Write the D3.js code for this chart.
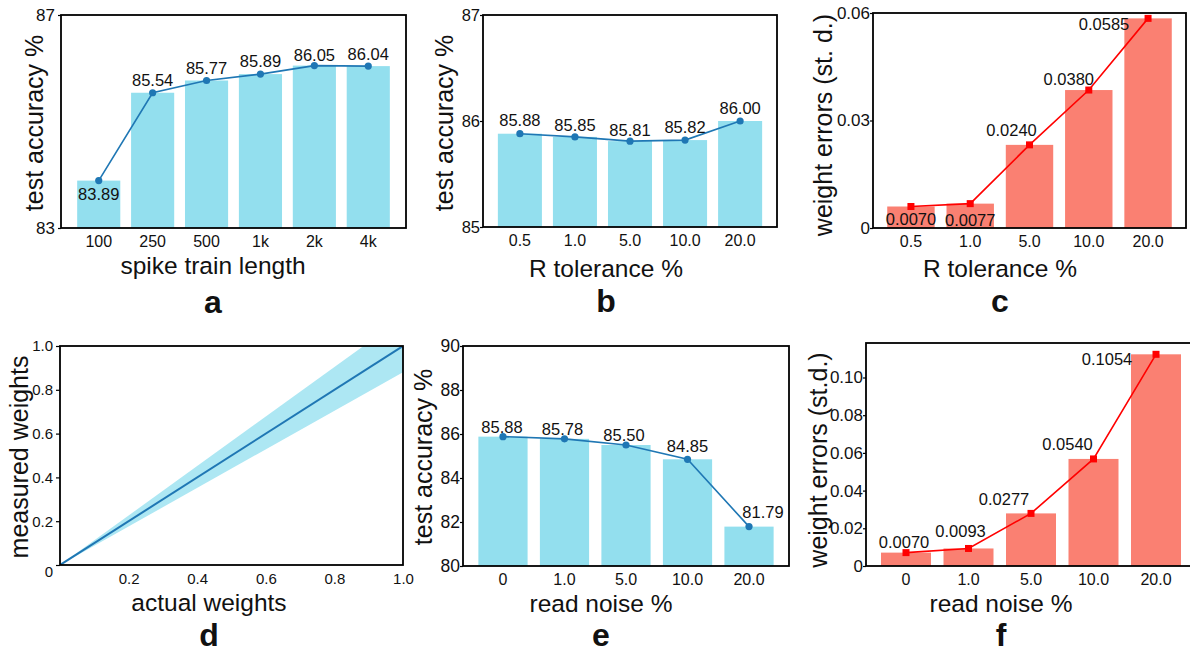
<!DOCTYPE html>
<html>
<head>
<meta charset="utf-8">
<script src="https://cdn.jsdelivr.net/npm/d3@7"></script>
<style>
  body { margin: 0; background: #fff; }
  text { font-family: "Liberation Sans", Arial, sans-serif; fill: #111; }
</style>
</head>
<body>
<script>
// ---- data ----
const spikeLengths = ['100', '250', '500', '1k', '2k', '4k'];
const spikeAcc = [83.89, 85.54, 85.77, 85.89, 86.05, 86.04];

const rTolerance = ['0.5', '1.0', '5.0', '10.0', '20.0'];
const rTolAcc = [85.88, 85.85, 85.81, 85.82, 86.00];
const rTolErr = [0.0060, 0.0068, 0.0232, 0.0385, 0.0585];
const rTolErrLabels = ['0.0070', '0.0077', '0.0240', '0.0380', '0.0585'];

const readNoise = ['0', '1.0', '5.0', '10.0', '20.0'];
const noiseAcc = [85.88, 85.78, 85.50, 84.85, 81.79];
const noiseErr = [0.0071, 0.0093, 0.0279, 0.0568, 0.1123];
const noiseErrLabels = ['0.0070', '0.0093', '0.0277', '0.0540', '0.1054'];

const actualW = [0, 1];
const measuredW = [0, 1];
const measuredLo = [0, 0.88];
const measuredHi = [0, 1.13];

const ticksA = [83, 87];
const ticksB = [85, 86, 87];
const ticksC = [0, 0.03, 0.06];
const ticksD = [0, 0.2, 0.4, 0.6, 0.8, 1.0];
const ticksE = [80, 82, 84, 86, 88, 90];
const ticksF = [0, 0.02, 0.04, 0.06, 0.08, 0.10];

const BLUE_BAR = '#93dfee';
const BLUE_LINE = '#1f77b4';
const SALMON = '#fa8072';
const RED = '#ff0000';

const svg = d3.select('body').append('svg')
  .attr('width', 1190)
  .attr('height', 653);

const fmtErr = d => (d === 0 ? '0' : d3.format('.2f')(d));

function styleAxis(ax, size) {
  ax.select('.domain').remove();
  ax.selectAll('line').attr('stroke', '#000').attr('stroke-width', 1.2);
  ax.selectAll('text').attr('font-size', size).attr('fill', '#111');
}

function titles(p) {
  svg.append('text')
    .attr('transform', `translate(${p.yl[0]},${p.yl[1]}) rotate(-90)`)
    .attr('text-anchor', 'middle')
    .attr('font-size', 25)
    .text(p.ylabel);
  svg.append('text')
    .attr('x', p.xl[0]).attr('y', p.xl[1])
    .attr('text-anchor', 'middle')
    .attr('font-size', 24.5)
    .text(p.xlabel);
  svg.append('text')
    .attr('x', p.xl[0]).attr('y', p.letterY)
    .attr('text-anchor', 'middle')
    .attr('font-size', 32)
    .attr('font-weight', 'bold')
    .text(p.letter);
}

function frame(p) {
  svg.append('rect')
    .attr('x', p.x0).attr('y', p.y0)
    .attr('width', p.x1 - p.x0).attr('height', p.y1 - p.y0)
    .attr('fill', 'none')
    .attr('stroke', '#000')
    .attr('stroke-width', 1.8);
}

function barPanel(p) {
  const x = d3.scaleBand().domain(p.cats).range([p.x0, p.x1])
    .paddingInner(0.2).paddingOuter(p.outer);
  const y = d3.scaleLinear().domain(p.domain).range([p.y1, p.y0]);
  const bw = x.bandwidth();
  const cx = (d, i) => x(p.cats[i]) + bw / 2;

  const g = svg.append('g');
  g.selectAll('rect.bar').data(p.values).enter().append('rect')
    .attr('class', 'bar')
    .attr('x', (d, i) => x(p.cats[i]))
    .attr('width', bw)
    .attr('y', d => y(d))
    .attr('height', d => y(p.domain[0]) - y(d))
    .attr('fill', p.barColor);

  g.append('path')
    .datum(p.values)
    .attr('fill', 'none')
    .attr('stroke', p.lineColor)
    .attr('stroke-width', 1.6)
    .attr('d', d3.line().x(cx).y(d => y(d)));

  if (p.marker === 'square') {
    g.selectAll('rect.mk').data(p.values).enter().append('rect')
      .attr('class', 'mk')
      .attr('x', (d, i) => cx(d, i) - 3.5)
      .attr('y', d => y(d) - 3.5)
      .attr('width', 7).attr('height', 7)
      .attr('fill', p.lineColor);
  } else {
    g.selectAll('circle').data(p.values).enter().append('circle')
      .attr('cx', cx)
      .attr('cy', d => y(d))
      .attr('r', 3.6)
      .attr('fill', p.lineColor);
  }

  g.selectAll('text.val').data(p.values).enter().append('text')
    .attr('class', 'val')
    .attr('x', (d, i) => cx(d, i) + p.off[i][0])
    .attr('y', (d, i) => y(d) + p.off[i][1])
    .attr('text-anchor', 'middle')
    .attr('font-size', 16.5)
    .text((d, i) => p.labels[i]);

  const ya = svg.append('g')
    .attr('transform', `translate(${p.x0},0)`)
    .call(d3.axisLeft(y).tickValues(p.ticks).tickFormat(p.fmt).tickSize(3).tickPadding(p.ypad));
  styleAxis(ya, p.ytSize);

  const xa = svg.append('g')
    .attr('transform', `translate(0,${p.y1})`)
    .call(d3.axisBottom(x).tickSize(0).tickPadding(8));
  styleAxis(xa, 16);

  frame(p);
  titles(p);
}

// a: spike train length
barPanel({
  x0: 61, x1: 406, y0: 15, y1: 228, outer: 0.3,
  cats: spikeLengths, values: spikeAcc, labels: spikeAcc.map(d => d.toFixed(2)),
  domain: [83, 87], ticks: ticksA, fmt: d3.format('d'), ypad: 3, ytSize: 17,
  barColor: BLUE_BAR, lineColor: BLUE_LINE, marker: 'circle',
  off: [[0, 19], [0, -7], [0, -6], [0, -7], [0, -5], [0, -6]],
  ylabel: 'test accuracy %', yl: [43, 123],
  xlabel: 'spike train length', xl: [213, 274], letter: 'a', letterY: 313
});

// b: R tolerance vs accuracy
barPanel({
  x0: 483, x1: 777, y0: 15, y1: 227, outer: 0.27,
  cats: rTolerance, values: rTolAcc, labels: rTolAcc.map(d => d.toFixed(2)),
  domain: [85, 87], ticks: ticksB, fmt: d3.format('d'), ypad: 0, ytSize: 16.5,
  barColor: BLUE_BAR, lineColor: BLUE_LINE, marker: 'circle',
  off: [[0, -8], [0, -6], [0, -5], [0, -7], [0, -7]],
  ylabel: 'test accuracy %', yl: [453, 123],
  xlabel: 'R tolerance %', xl: [606, 277], letter: 'b', letterY: 312
});

// c: R tolerance vs weight errors
barPanel({
  x0: 873, x1: 1186, y0: 13, y1: 228, outer: 0.24,
  cats: rTolerance, values: rTolErr, labels: rTolErrLabels,
  domain: [0, 0.06], ticks: ticksC, fmt: fmtErr, ypad: 0, ytSize: 17,
  barColor: SALMON, lineColor: RED, marker: 'square',
  off: [[0, 18], [0, 22], [-18, -9], [-20, -5], [-44, 12]],
  ylabel: 'weight errors (st. d.)', yl: [832, 125],
  xlabel: 'R tolerance %', xl: [1000, 277], letter: 'c', letterY: 312
});

// d: measured vs actual weights
(function () {
  const p = {
    x0: 60, x1: 403, y0: 346, y1: 565,
    ylabel: 'measured weights', yl: [28, 457],
    xlabel: 'actual weights', xl: [209, 611], letter: 'd', letterY: 646
  };
  const x = d3.scaleLinear().domain([0, 1]).range([p.x0, p.x1]);
  const y = d3.scaleLinear().domain([0, 1]).range([p.y1, p.y0]);

  svg.append('clipPath').attr('id', 'clipD')
    .append('rect')
    .attr('x', p.x0).attr('y', p.y0)
    .attr('width', p.x1 - p.x0).attr('height', p.y1 - p.y0);

  const g = svg.append('g').attr('clip-path', 'url(#clipD)');
  g.append('path')
    .datum(actualW)
    .attr('fill', '#ade7f3')
    .attr('d', d3.area()
      .x(d => x(d))
      .y0((d, i) => y(measuredLo[i]))
      .y1((d, i) => y(measuredHi[i])));
  g.append('path')
    .datum(actualW)
    .attr('fill', 'none')
    .attr('stroke', BLUE_LINE)
    .attr('stroke-width', 2)
    .attr('d', d3.line().x(d => x(d)).y((d, i) => y(measuredW[i])));

  const ya = svg.append('g')
    .attr('transform', `translate(${p.x0},0)`)
    .call(d3.axisLeft(y).tickValues(ticksD).tickFormat(d => (d === 0 ? '0' : d3.format('.1f')(d)))
      .tickSize(4).tickPadding(3));
  styleAxis(ya, 15);
  // the zero label sits a little low in the original
  ya.selectAll('.tick').filter(d => d === 0).select('text').attr('dy', '0.75em');

  const xa = svg.append('g')
    .attr('transform', `translate(0,${p.y1})`)
    .call(d3.axisBottom(x).tickValues(ticksD.slice(1)).tickFormat(d3.format('.1f'))
      .tickSize(0).tickPadding(8));
  styleAxis(xa, 15);

  frame(p);
  titles(p);
})();

// e: read noise vs accuracy
barPanel({
  x0: 463, x1: 789, y0: 346, y1: 566, outer: 0.25,
  cats: readNoise, values: noiseAcc, labels: noiseAcc.map(d => d.toFixed(2)),
  domain: [80, 90], ticks: ticksE, fmt: d3.format('d'), ypad: 0, ytSize: 17.5,
  barColor: BLUE_BAR, lineColor: BLUE_LINE, marker: 'circle',
  off: [[-1, -4], [-2, -4], [-2, -4], [0, -7], [14, -9]],
  ylabel: 'test accuracy %', yl: [432, 457],
  xlabel: 'read noise %', xl: [601, 611.5], letter: 'e', letterY: 646
});

// f: read noise vs weight errors
barPanel({
  x0: 866, x1: 1196, y0: 343, y1: 566, outer: 0.24,
  cats: readNoise, values: noiseErr, labels: noiseErrLabels,
  domain: [0, 0.1183], ticks: ticksF, fmt: fmtErr, ypad: 0, ytSize: 17,
  barColor: SALMON, lineColor: RED, marker: 'square',
  off: [[-2, -5], [-8, -11], [-27, -8], [-26, -9], [-49, 11]],
  ylabel: 'weight errors (st.d.)', yl: [827, 460],
  xlabel: 'read noise %', xl: [1001, 611.5], letter: 'f', letterY: 646
});
</script>
</body>
</html>
